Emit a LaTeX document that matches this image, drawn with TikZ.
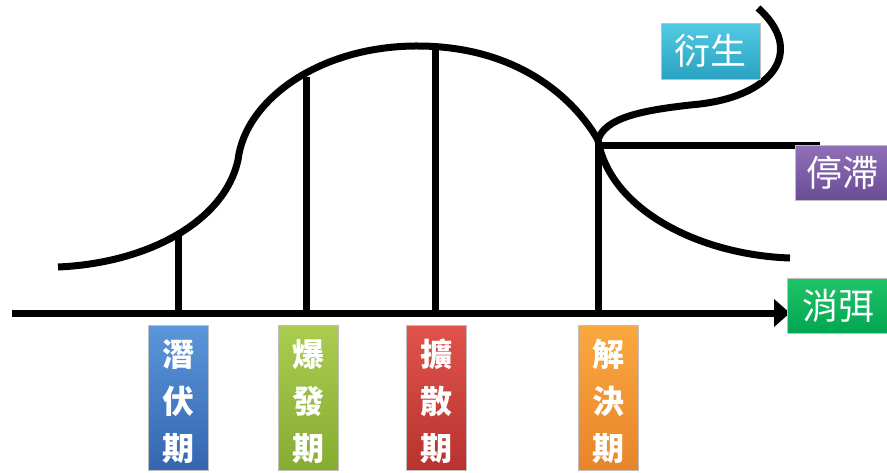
\documentclass[tikz,border=0pt]{standalone}
\usepackage{fontspec}
\newfontfamily\cjk{Noto Sans CJK TC}
\usetikzlibrary{arrows.meta}
\definecolor{blueT}{HTML}{5A96DA}\definecolor{blueB}{HTML}{3466B0}
\definecolor{limeT}{HTML}{AACC50}\definecolor{limeB}{HTML}{86AC32}
\definecolor{redT}{HTML}{E0534C}\definecolor{redB}{HTML}{B8322F}
\definecolor{oraT}{HTML}{FAA840}\definecolor{oraB}{HTML}{E8842A}
\definecolor{cyaT}{HTML}{52CAE3}\definecolor{cyaB}{HTML}{2AA3C2}
\definecolor{purT}{HTML}{9070B8}\definecolor{purB}{HTML}{6A4C96}
\definecolor{grnT}{HTML}{22C46A}\definecolor{grnB}{HTML}{00A650}
\tikzset{
  thick line/.style={line width=7pt, black},
  phasebox/.style={minimum width=60pt, minimum height=145pt, inner sep=0pt,
    draw=black!25, line width=0.6pt},
  phasetext/.style={inner sep=0pt, text=white,
    font=\cjk\bfseries\fontsize{32}{47}\selectfont, align=center},
  outbox/.style={inner sep=0pt, text=white, font=\cjk\fontsize{36}{40}\selectfont,
    draw=black!25, line width=0.6pt},
}
\begin{document}
\begin{tikzpicture}[x=1pt,y=-1pt]
\useasboundingbox (0,0) rectangle (887,472);
% axis
\coordinate (axL) at (12,313);
\coordinate (axR) at (790,313);
\draw[thick line, -{Triangle[length=16pt,width=27pt]}] (axL) -- (axR);
% main curve
\coordinate (s) at (58,267);
\coordinate (m1) at (238,160);
\coordinate (top) at (420,46);
\coordinate (e) at (598,140);
\draw[thick line] (s) .. controls (150,263) and (225,220) .. (m1)
  .. controls (245,100) and (320,45) .. (top)
  .. controls (520,47) and (575,100) .. (e);
% verticals
\coordinate (v1) at (178,234);
\coordinate (v2) at (306,77);
\coordinate (v3) at (435,47);
\draw[thick line] (v1) -- (v1 |- axL);
\draw[thick line] (v2) -- (v2 |- axL);
\draw[thick line] (v3) -- (v3 |- axL);
\draw[thick line] (e) -- (e |- axL);
% branches
\coordinate (up1) at (700,104);
\coordinate (upE) at (758,8);
\coordinate (dnE) at (790,258);
\coordinate (hS) at (598,145);
\coordinate (hE) at (820,145);
\draw[thick line] (e) .. controls (605,118) and (640,110) .. (up1)
  .. controls (775,95) and (805,50) .. (upE);
\draw[thick line] (e) .. controls (610,210) and (700,255) .. (dnE);
\draw[thick line] (hS) -- (hE);
% phase boxes
\node[phasebox, top color=blueT, bottom color=blueB] (p1) at (178,397.5) {};
\node[phasebox, top color=limeT, bottom color=limeB] (p2) at (308,397.5) {};
\node[phasebox, top color=redT, bottom color=redB] (p3) at (436,397.5) {};
\node[phasebox, top color=oraT, bottom color=oraB] (p4) at (608,397.5) {};
\node[phasetext] (t1) at ([yshift=-4pt]p1.center) {潛\\伏\\期};
\node[phasetext] (t2) at ([yshift=-4pt]p2.center) {爆\\發\\期};
\node[phasetext] (t3) at ([yshift=-4pt]p3.center) {擴\\散\\期};
\node[phasetext] (t4) at ([yshift=-4pt]p4.center) {解\\決\\期};
% outcome boxes
\node[outbox, minimum width=99pt, minimum height=56pt, top color=cyaT, bottom color=cyaB] (o1) at (710.5,51) {衍生};
\node[outbox, minimum width=94pt, minimum height=55pt, top color=purT, bottom color=purB] (o2) at (842,172.5) {停滯};
\node[outbox, minimum width=102pt, minimum height=55pt, top color=grnT, bottom color=grnB] (o3) at (838,305.5) {消弭};
\end{tikzpicture}
\end{document}
